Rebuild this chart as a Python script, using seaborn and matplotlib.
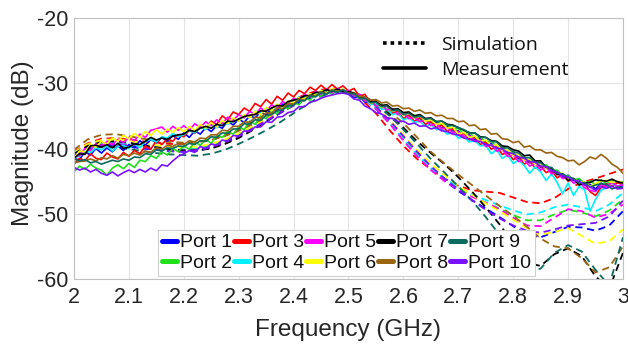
import numpy as np
import pandas as pd
import matplotlib
matplotlib.use("Agg")
import matplotlib.pyplot as plt
import seaborn as sns
from matplotlib.lines import Line2D

# ---------------- data ----------------
ports = ["Port 1", "Port 2", "Port 3", "Port 4", "Port 5",
         "Port 6", "Port 7", "Port 8", "Port 9", "Port 10"]
colors = ["#0000ff", "#22e01b", "#ff0000", "#00f0ff", "#ff00ff",
          "#ffff00", "#000000", "#9a6410", "#0a6b5e", "#7a12ff"]

freq_meas = np.linspace(2.0, 3.0, 101)
freq_sim = np.linspace(2.0, 3.0, 41)

meas_p1 = [-41.6,-41.7,-40.5,-41.0,-40.0,-40.7,-39.9,-40.5,-39.6,-40.3,
           -39.4,-39.9,-38.8,-39.5,-38.6,-39.1,-38.3,-38.9,-38.0,-38.6,
           -37.6,-38.3,-37.3,-37.8,-36.8,-37.4,-36.5,-36.9,-35.8,-36.4,
           -35.5,-36.0,-35.0,-35.3,-34.4,-34.9,-33.8,-34.2,-33.2,-33.5,
           -32.7,-33.0,-32.1,-32.4,-31.5,-32.0,-31.2,-31.6,-31.0,-31.5,
           -31.4,-32.2,-32.0,-32.9,-32.7,-33.5,-33.3,-34.1,-33.9,-34.7,
           -34.6,-35.4,-35.1,-35.7,-35.5,-36.4,-36.0,-36.9,-36.6,-37.4,
           -37.3,-38.2,-37.9,-38.7,-38.5,-39.4,-39.2,-40.0,-39.9,-40.8,
           -40.7,-41.6,-41.4,-42.2,-42.0,-42.9,-42.7,-43.6,-43.5,-44.4,
           -44.1,-44.9,-44.7,-45.6,-45.5,-46.2,-45.3,-45.8,-45.2,-45.9,-45.7]
meas_p2 = [-43.6,-42.7,-43.2,-42.4,-43.0,-43.3,-44.1,-43.0,-42.5,-43.1,
           -42.3,-42.9,-41.8,-42.0,-41.1,-41.5,-40.5,-41.0,-40.0,-40.5,
           -39.6,-40.1,-39.0,-39.5,-38.6,-39.2,-38.0,-38.3,-37.4,-37.8,
           -36.7,-37.1,-35.8,-36.3,-35.0,-35.4,-34.3,-34.7,-33.5,-33.9,
           -32.9,-33.3,-32.2,-32.6,-31.6,-32.0,-31.1,-31.6,-30.9,-31.5,
           -31.2,-31.9,-31.9,-32.7,-32.6,-33.5,-33.2,-34.2,-33.9,-34.8,
           -34.6,-35.3,-34.9,-35.6,-35.4,-36.0,-35.8,-36.5,-36.3,-37.1,
           -36.9,-37.8,-37.5,-38.4,-38.2,-39.1,-38.8,-39.8,-39.6,-40.6,
           -40.6,-41.3,-41.2,-42.0,-41.9,-42.7,-42.5,-43.4,-43.3,-44.1,
           -44.2,-44.8,-44.6,-45.3,-45.0,-45.5,-44.8,-45.4,-44.9,-45.3,-45.1]
meas_p3 = [-42.4,-41.5,-41.9,-40.8,-41.5,-41.7,-40.7,-41.3,-41.6,-40.6,
           -41.2,-40.3,-40.8,-39.6,-40.1,-38.8,-39.4,-38.5,-38.9,-37.9,
           -38.2,-37.2,-37.7,-36.6,-37.0,-35.8,-36.3,-35.0,-35.6,-34.4,
           -34.8,-33.8,-34.3,-33.1,-33.6,-32.5,-33.2,-32.0,-32.6,-31.5,
           -32.1,-31.1,-31.6,-30.6,-31.1,-30.3,-31.0,-30.2,-30.9,-30.4,
           -31.2,-30.8,-32.0,-31.7,-33.0,-32.7,-33.8,-33.5,-34.6,-34.3,
           -35.4,-34.9,-35.8,-35.3,-36.3,-35.9,-36.8,-36.4,-37.4,-37.0,
           -38.0,-37.6,-38.7,-38.3,-39.4,-39.0,-40.1,-39.7,-40.9,-40.6,
           -41.7,-41.3,-42.4,-41.9,-43.0,-42.7,-43.7,-43.3,-44.5,-44.0,
           -45.0,-44.7,-45.5,-45.3,-46.6,-47.2,-46.0,-45.4,-45.8,-45.2,-45.6]
meas_p4 = [-41.3,-41.2,-40.3,-40.6,-39.9,-40.2,-39.6,-40.4,-39.7,-39.5,
           -40.0,-39.3,-39.9,-38.9,-38.6,-39.0,-38.2,-38.4,-37.7,-38.2,
           -37.9,-37.2,-37.6,-36.7,-37.1,-36.3,-36.8,-36.0,-36.3,-35.6,
           -35.8,-34.9,-35.3,-34.3,-34.6,-33.8,-34.2,-33.3,-33.6,-32.8,
           -32.9,-32.1,-32.5,-31.6,-32.0,-31.1,-31.6,-30.9,-31.4,-30.9,
           -31.6,-31.5,-32.4,-32.2,-33.3,-33.0,-34.0,-33.9,-34.8,-34.6,
           -35.6,-35.3,-36.0,-35.8,-36.6,-36.3,-37.1,-37.0,-37.8,-37.5,
           -38.4,-38.2,-39.0,-38.8,-39.6,-39.5,-40.8,-40.2,-41.5,-41.0,
           -42.3,-41.8,-42.6,-43.8,-42.8,-43.6,-44.9,-43.9,-45.2,-46.9,
           -45.3,-47.2,-45.8,-46.3,-49.6,-47.8,-46.4,-46.0,-45.3,-45.9,-45.4]
meas_p5 = [-41.2,-41.1,-40.0,-40.3,-39.3,-39.8,-38.9,-39.4,-38.6,-39.1,
           -38.3,-38.8,-37.8,-38.3,-37.2,-37.0,-36.7,-37.5,-36.6,-37.2,
           -36.5,-37.2,-36.2,-36.8,-35.9,-36.5,-35.6,-36.2,-35.2,-35.7,
           -34.8,-35.3,-34.3,-34.8,-33.8,-34.3,-33.3,-33.8,-32.8,-33.3,
           -32.3,-32.7,-31.7,-32.1,-31.2,-31.7,-30.9,-31.4,-30.8,-31.3,
           -31.1,-31.9,-31.7,-32.7,-32.6,-33.5,-33.3,-34.1,-33.9,-34.8,
           -34.6,-35.4,-35.2,-35.9,-35.6,-36.5,-36.2,-37.0,-36.8,-37.6,
           -37.4,-38.2,-38.0,-38.9,-38.6,-39.7,-39.4,-40.4,-40.2,-41.2,
           -41.0,-42.0,-41.7,-42.7,-42.3,-43.3,-42.9,-43.9,-43.7,-44.6,
           -44.5,-45.3,-45.1,-46.0,-46.4,-46.6,-45.5,-45.9,-45.2,-45.8,-45.5]
meas_p6 = [-41.5,-40.4,-40.5,-39.4,-39.8,-38.9,-39.3,-38.4,-38.9,-38.0,
           -38.5,-37.7,-38.3,-37.4,-38.0,-37.1,-37.8,-37.0,-37.5,-36.8,
           -37.4,-36.6,-37.2,-36.3,-36.9,-36.0,-36.7,-35.7,-36.2,-35.3,
           -35.8,-34.8,-35.3,-34.3,-34.8,-33.7,-34.2,-33.2,-33.7,-32.7,
           -33.0,-32.2,-32.4,-31.6,-31.9,-31.1,-31.5,-30.8,-31.3,-30.9,
           -31.6,-31.4,-32.3,-32.1,-33.1,-32.8,-33.7,-33.4,-34.3,-34.0,
           -34.9,-34.5,-35.3,-34.9,-35.8,-35.6,-36.3,-36.1,-36.9,-36.7,
           -37.8,-37.5,-38.3,-38.1,-38.9,-38.7,-39.6,-39.4,-40.3,-40.2,
           -41.1,-40.9,-41.8,-41.6,-42.4,-42.3,-43.1,-43.0,-43.9,-43.8,
           -44.7,-44.6,-45.2,-45.1,-45.8,-45.4,-45.0,-44.9,-45.2,-45.0,-45.3]
meas_p7 = [-41.5,-40.8,-40.9,-39.6,-39.5,-39.8,-39.4,-39.9,-39.2,-40.0,
           -39.8,-39.3,-39.4,-38.9,-38.3,-38.7,-38.4,-38.6,-38.1,-37.9,
           -37.8,-37.2,-37.4,-36.9,-36.6,-36.9,-36.3,-36.5,-35.8,-35.9,
           -35.5,-35.1,-34.9,-34.8,-34.2,-34.3,-33.8,-33.4,-33.5,-32.8,
           -32.6,-32.4,-31.9,-31.9,-31.4,-31.4,-31.0,-31.2,-30.9,-31.3,
           -31.3,-31.5,-32.1,-32.1,-32.8,-32.8,-33.4,-33.3,-34.0,-33.9,
           -34.5,-34.4,-35.0,-34.8,-35.4,-35.3,-35.9,-35.8,-36.3,-36.4,
           -36.8,-37.2,-37.6,-37.6,-38.2,-38.3,-38.8,-38.9,-39.6,-39.7,
           -40.2,-40.4,-41.1,-41.0,-41.9,-41.9,-42.9,-43.0,-44.0,-43.9,
           -44.9,-44.6,-45.6,-45.3,-45.2,-44.8,-44.9,-45.0,-44.7,-45.1,-45.3]
meas_p8 = [-42.2,-42.0,-41.9,-41.6,-41.9,-41.4,-41.6,-41.1,-41.5,-40.9,
           -41.1,-40.7,-41.0,-40.4,-40.6,-39.9,-40.1,-39.5,-39.7,-39.2,
           -39.4,-38.8,-39.0,-38.4,-38.5,-37.9,-37.9,-37.2,-37.3,-36.6,
           -36.6,-35.9,-36.0,-35.2,-35.3,-34.5,-34.6,-33.8,-33.9,-33.1,
           -33.2,-32.4,-32.6,-31.8,-32.0,-31.3,-31.6,-31.0,-31.3,-31.0,
           -31.5,-31.6,-32.0,-32.1,-32.6,-32.5,-33.0,-32.9,-33.5,-33.4,
           -33.9,-33.8,-34.3,-34.1,-34.6,-34.5,-35.0,-34.9,-35.4,-35.4,
           -35.9,-35.8,-36.5,-36.4,-37.1,-37.0,-37.8,-37.7,-38.5,-38.6,
           -39.1,-38.9,-39.8,-39.6,-40.2,-40.2,-40.7,-40.6,-41.2,-41.4,
           -41.9,-41.8,-42.5,-42.0,-41.3,-41.6,-40.9,-41.5,-42.4,-42.9,-43.8]
meas_p9 = [-41.6,-41.9,-41.7,-42.2,-42.0,-42.4,-42.1,-41.8,-42.0,-41.6,
           -41.8,-41.3,-41.4,-40.8,-40.9,-40.2,-40.4,-39.9,-40.0,-39.6,
           -39.7,-39.2,-39.4,-38.8,-38.9,-38.2,-38.3,-37.6,-37.7,-37.0,
           -37.0,-36.2,-36.3,-35.6,-35.7,-34.9,-34.8,-34.2,-34.1,-33.4,
           -33.4,-32.6,-32.7,-31.9,-32.1,-31.4,-31.7,-31.1,-31.4,-31.0,
           -31.6,-31.6,-32.3,-32.3,-33.0,-32.9,-33.6,-33.5,-34.2,-34.1,
           -34.8,-34.6,-35.2,-35.0,-35.5,-35.4,-35.9,-35.8,-36.4,-36.5,
           -36.8,-37.1,-37.6,-37.6,-38.3,-38.3,-38.9,-39.0,-39.9,-39.9,
           -40.5,-40.7,-41.4,-41.4,-42.1,-42.2,-42.8,-42.9,-43.8,-43.9,
           -44.4,-44.6,-45.3,-45.2,-45.9,-45.6,-45.4,-45.5,-46.2,-45.9,-46.0]
meas_p10 = [-42.9,-43.3,-43.0,-43.6,-43.2,-43.8,-44.1,-43.6,-44.2,-43.7,
            -43.3,-43.7,-43.2,-43.6,-43.0,-43.4,-42.5,-42.7,-41.9,-41.2,
            -40.8,-40.3,-40.6,-39.7,-40.0,-39.3,-39.5,-38.7,-38.9,-38.0,
            -38.1,-37.3,-37.4,-36.7,-36.7,-35.9,-36.0,-35.2,-35.1,-34.5,
            -34.3,-33.6,-33.6,-32.9,-32.7,-32.3,-32.0,-31.8,-31.6,-31.5,
            -31.7,-32.4,-32.6,-33.5,-33.9,-34.5,-34.7,-35.3,-35.4,-35.9,
            -35.8,-36.3,-36.1,-36.6,-36.5,-37.0,-36.8,-37.3,-37.4,-37.8,
            -37.9,-38.4,-38.5,-38.9,-38.9,-39.4,-39.5,-39.9,-40.1,-40.6,
            -40.8,-41.3,-41.5,-42.0,-42.1,-42.7,-42.8,-43.4,-43.6,-44.2,
            -44.4,-44.9,-45.0,-45.6,-45.9,-46.4,-45.9,-46.1,-45.8,-46.2,-46.1]

sim_p1 = [-41.2,-40.1,-39.6,-39.5,-39.7,-40.0,-40.2,-40.4,-40.5,-40.3,
          -39.9,-39.2,-38.2,-37.0,-35.7,-34.4,-33.2,-32.2,-31.4,-31.1,
          -31.4,-32.3,-33.9,-36.1,-38.6,-41.0,-43.1,-44.9,-46.5,-47.9,
          -49.2,-50.5,-51.9,-53.2,-53.6,-52.8,-52.0,-52.1,-52.6,-51.8,-49.6]
sim_p2 = [-40.9,-39.8,-39.3,-39.2,-39.4,-39.7,-40.0,-40.2,-40.2,-40.0,
          -39.6,-38.9,-37.9,-36.7,-35.4,-34.1,-32.9,-31.9,-31.2,-31.0,
          -31.3,-32.2,-33.8,-36.0,-38.4,-40.8,-42.9,-44.7,-46.1,-47.3,
          -48.3,-49.2,-50.2,-51.0,-51.0,-50.1,-49.4,-49.8,-50.4,-49.5,-47.8]
sim_p3 = [-40.5,-39.2,-38.5,-38.4,-38.6,-38.9,-39.1,-39.3,-39.3,-39.1,
          -38.7,-38.0,-37.1,-36.0,-34.8,-33.6,-32.5,-31.6,-31.0,-30.8,
          -31.3,-32.6,-34.6,-37.2,-39.6,-41.6,-43.2,-44.6,-45.7,-46.4,
          -46.6,-46.8,-47.5,-48.2,-48.4,-47.6,-46.2,-45.2,-44.6,-43.9,-43.2]
sim_p4 = [-41.0,-39.8,-39.2,-39.1,-39.3,-39.6,-39.9,-40.1,-40.2,-40.1,
          -39.7,-39.0,-38.0,-36.8,-35.5,-34.2,-33.0,-32.0,-31.3,-31.0,
          -31.3,-32.2,-33.7,-35.9,-38.6,-41.0,-43.0,-44.6,-45.9,-47.0,
          -47.9,-48.7,-49.5,-50.1,-49.8,-49.0,-48.6,-49.0,-49.6,-48.6,-46.8]
sim_p5 = [-41.0,-39.9,-39.4,-39.3,-39.5,-39.8,-40.0,-40.2,-40.3,-40.2,
          -39.8,-39.1,-38.1,-36.9,-35.6,-34.3,-33.1,-32.1,-31.4,-31.1,
          -31.4,-32.3,-33.9,-36.2,-38.8,-41.2,-43.3,-45.0,-46.3,-47.4,
          -48.3,-49.3,-50.6,-51.8,-51.9,-50.6,-49.3,-49.6,-50.6,-50.0,-48.6]
sim_p6 = [-40.6,-39.3,-38.7,-38.6,-38.8,-39.2,-39.5,-39.7,-39.8,-39.7,
          -39.3,-38.6,-37.7,-36.6,-35.4,-34.1,-32.9,-31.9,-31.2,-30.9,
          -31.2,-32.1,-33.6,-35.6,-37.9,-40.2,-42.3,-44.1,-45.7,-47.1,
          -48.4,-49.6,-50.9,-52.2,-53.2,-52.8,-52.2,-53.4,-54.6,-54.2,-52.4]
sim_p7 = [-40.8,-39.6,-39.0,-38.9,-39.1,-39.5,-39.8,-40.1,-40.3,-40.3,
          -40.0,-39.3,-38.4,-37.2,-35.9,-34.6,-33.4,-32.3,-31.6,-31.2,
          -31.3,-31.9,-33.0,-34.7,-36.8,-38.9,-40.7,-42.4,-44.4,-46.6,
          -49.0,-51.6,-54.5,-57.5,-58.0,-56.2,-55.3,-56.5,-59.6,-61.5,-56.0]
sim_p8 = [-40.2,-38.6,-37.9,-37.8,-38.1,-38.5,-38.8,-39.0,-39.1,-39.0,
          -38.7,-38.1,-37.3,-36.3,-35.2,-34.0,-32.9,-32.0,-31.3,-31.0,
          -31.2,-31.9,-33.0,-34.4,-36.1,-38.3,-40.5,-42.3,-44.0,-45.6,
          -47.2,-48.8,-50.3,-52.0,-53.8,-55.0,-55.3,-56.8,-59.0,-58.2,-55.0]
sim_p9 = [-41.2,-40.2,-39.8,-39.8,-40.1,-40.4,-40.7,-40.9,-41.0,-41.1,
          -40.8,-40.2,-39.3,-38.3,-37.2,-36.0,-34.6,-33.2,-32.0,-31.3,
          -31.3,-32.0,-33.3,-35.0,-37.1,-39.3,-41.6,-43.7,-45.8,-48.0,
          -50.5,-53.2,-56.0,-58.8,-58.4,-56.0,-54.8,-55.8,-58.6,-61.0,-53.6]
sim_p10 = [-41.0,-40.0,-39.5,-39.4,-39.6,-39.9,-40.2,-40.4,-40.5,-40.3,
           -39.8,-39.0,-38.1,-37.0,-35.8,-34.6,-33.4,-32.3,-31.5,-31.1,
           -31.3,-32.1,-33.6,-35.7,-38.1,-40.5,-42.7,-44.6,-46.3,-47.9,
           -49.4,-50.7,-51.8,-52.6,-52.9,-52.4,-51.8,-51.6,-51.4,-50.4,-48.0]

meas_all = [meas_p1, meas_p2, meas_p3, meas_p4, meas_p5,
            meas_p6, meas_p7, meas_p8, meas_p9, meas_p10]
sim_all = [sim_p1, sim_p2, sim_p3, sim_p4, sim_p5,
           sim_p6, sim_p7, sim_p8, sim_p9, sim_p10]

x_ticks = [2.0, 2.1, 2.2, 2.3, 2.4, 2.5, 2.6, 2.7, 2.8, 2.9, 3.0]
x_ticklabels = ["2", "2.1", "2.2", "2.3", "2.4", "2.5", "2.6", "2.7", "2.8", "2.9", "3"]
y_ticks = [-60, -50, -40, -30, -20]

df_meas = pd.concat([pd.DataFrame({"f": freq_meas, "dB": v, "port": p})
                     for p, v in zip(ports, meas_all)], ignore_index=True)
df_sim = pd.concat([pd.DataFrame({"f": freq_sim, "dB": v, "port": p})
                    for p, v in zip(ports, sim_all)], ignore_index=True)

# ---------------- style ----------------
sns.set_style("white")
plt.rcParams["font.family"] = ["Liberation Sans", "DejaVu Sans"]
plt.rcParams["axes.unicode_minus"] = False
TXT = "#262626"
palette = dict(zip(ports, colors))

fig = plt.figure(figsize=(6.28, 3.46), dpi=100)
ax = fig.add_axes([0.1178, 0.1936, 0.8742, 0.7544])

sns.lineplot(data=df_sim, x="f", y="dB", hue="port", hue_order=ports,
             palette=palette, estimator=None, sort=False, legend=False,
             linewidth=1.3, ax=ax)
n_sim = len(ax.lines)
for ln in ax.lines[:n_sim]:
    ln.set_dashes([4, 2.6])

sns.lineplot(data=df_meas, x="f", y="dB", hue="port", hue_order=ports,
             palette=palette, estimator=None, sort=False, legend=False,
             linewidth=1.2, ax=ax)

ax.set_xlim(2.0, 3.0)
ax.set_ylim(-60, -20)
ax.set_xticks(x_ticks)
ax.set_xticklabels(x_ticklabels)
ax.set_yticks(y_ticks)
ax.grid(True, color="#e3e3e3", linewidth=0.8)
ax.set_axisbelow(True)
for s in ax.spines.values():
    s.set_color("#c0c0c0")
    s.set_linewidth(0.8)
ax.tick_params(direction="in", length=4, width=0.8, color="#a8a8a8",
               labelsize=15.5, labelcolor=TXT)
ax.tick_params(axis="x", pad=6)
ax.tick_params(axis="y", pad=4)
ax.set_xlabel("Frequency (GHz)", fontsize=17.5, color=TXT)
ax.set_ylabel("Magnitude (dB)", fontsize=17.5, color=TXT)
ax.xaxis.set_label_coords(0.5, -0.152)
ax.yaxis.set_label_coords(-0.072, 0.521)

# port legend
handles = [Line2D([], [], color=c, lw=3.6) for c in colors]
leg1 = ax.legend(handles, ports, ncol=5, loc="lower left",
                 bbox_to_anchor=(0.153, 0.012), borderaxespad=0,
                 handlelength=0.8, handletextpad=0.12, columnspacing=0.1,
                 labelspacing=0.15, borderpad=0.2, fontsize=14,
                 frameon=True, fancybox=False, framealpha=1,
                 edgecolor="#d0d0d0")
leg1.get_frame().set_linewidth(0.8)
for t in leg1.get_texts():
    t.set_color("#111111")
ax.add_artist(leg1)

# simulation / measurement legend
h2 = [Line2D([], [], color="black", lw=2.6, linestyle=(0, (1, 1.1))),
      Line2D([], [], color="black", lw=2.6)]
leg2 = ax.legend(h2, ["Simulation", "Measurement"], loc="upper left",
                 bbox_to_anchor=(0.563, 0.93), borderaxespad=0,
                 borderpad=0, handlelength=2.2, handletextpad=0.8,
                 labelspacing=0.35, frameon=False,
                 prop={"family": ["Open Sans", "DejaVu Sans"], "size": 14})
for t in leg2.get_texts():
    t.set_color("#111111")

fig.savefig("out.png", dpi=100)
